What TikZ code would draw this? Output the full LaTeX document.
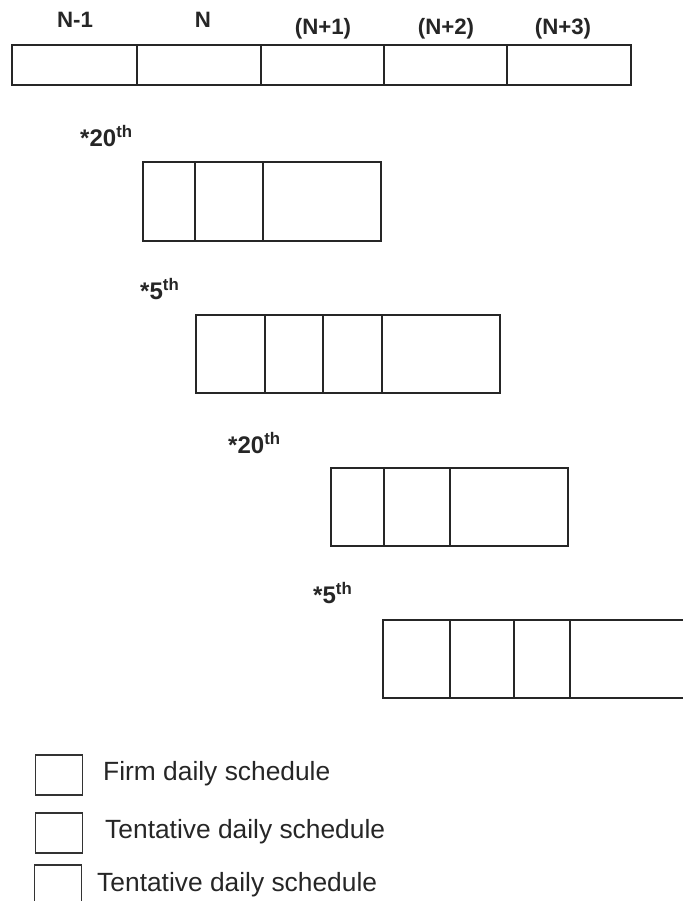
\documentclass[tikz,border=0pt]{standalone}
\usepackage{fontspec}
\setmainfont{Liberation Sans}
\usetikzlibrary{positioning}
\tikzset{
  cellline/.style={draw=black!85, line width=1.9pt},
  daylabel/.style={font=\fontsize{19}{22}\selectfont\bfseries, text=black!85, inner sep=0pt},
  datelabel/.style={font=\fontsize{20.5}{24}\selectfont\bfseries, text=black!85, inner sep=0pt, anchor=west},
  legendbox/.style={draw=black!80, line width=1.3pt, minimum width=1.4cm, minimum height=1.2cm, inner sep=0pt},
  legendtext/.style={font=\fontsize{22.5}{26}\selectfont, text=black!85, inner sep=0pt, anchor=west}
}
\begin{document}
\begin{tikzpicture}[x=0.03cm, y=-0.03cm]
\clip (0,0) rectangle (683,901);
% month strip
\node[daylabel] (m0) at (75,20) {N-1};
\node[daylabel] (m1) at (203,20) {N};
\node[daylabel] (m2) at (323,29) {(N+1)};
\node[daylabel] (m3) at (446,29) {(N+2)};
\node[daylabel] (m4) at (563,29) {(N+3)};
\draw[cellline] (12,45) rectangle (631,85);
\foreach \x in {137,261,384,507} \draw[cellline] (\x,45) -- (\x,85);
% schedule updates
\node[datelabel] (d1) at (80,136) {*20\textsuperscript{th}};
\draw[cellline] (143,162) rectangle (381,241);
\foreach \x in {195,263} \draw[cellline] (\x,162) -- (\x,241);
\node[datelabel] (d2) at (140,289) {*5\textsuperscript{th}};
\draw[cellline] (196,315) rectangle (500,393);
\foreach \x in {265,323,382} \draw[cellline] (\x,315) -- (\x,393);
\node[datelabel] (d3) at (228,443) {*20\textsuperscript{th}};
\draw[cellline] (331,468) rectangle (568,546);
\foreach \x in {384,450} \draw[cellline] (\x,468) -- (\x,546);
\node[datelabel] (d4) at (313,593) {*5\textsuperscript{th}};
\draw[cellline] (383,620) rectangle (700,698);
\foreach \x in {450,514,570} \draw[cellline] (\x,620) -- (\x,698);
% legend
\node[legendbox] (k1) at (59,775) {};
\node[legendtext] (t1) at (103,774) {Firm daily schedule};
\node[legendbox] (k2) at (59,833) {};
\node[legendtext] (t2) at (105,832) {Tentative daily schedule};
\node[legendbox] (k3) at (58,885) {};
\node[legendtext] (t3) at (97,885) {Tentative daily schedule};
\end{tikzpicture}
\end{document}
